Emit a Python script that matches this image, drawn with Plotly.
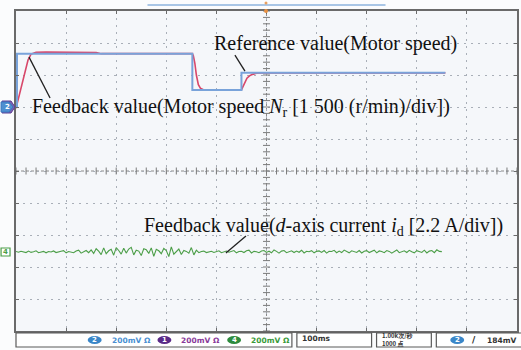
import numpy as np
import plotly.graph_objects as go

# ---------------- data ----------------
ref_time_ms = [0, 2, 2, 352, 352, 450, 450, 857]
ref_speed_rpm = [0, 0, 2500, 2500, 800, 800, 1600, 1600]

fb_time_ms = [0, 6, 12, 18, 24, 30, 40, 60, 100, 130, 160, 170, 352, 354, 357,
              360, 364, 368, 375, 450, 453, 457, 461, 466, 472, 480, 490, 857]
fb_speed_rpm = [-60, 520, 1080, 1640, 2200, 2480, 2560, 2570, 2560, 2565, 2550,
                2500, 2500, 2400, 2050, 1500, 1050, 880, 800, 800, 950, 1180,
                1350, 1460, 1530, 1580, 1600, 1600]

id_step_ms = 5
id_current_A = [0.03, -0.02, 0.05, 0.01, -0.04, 0.06, -0.03, 0.02, 0.08, -0.05,
                0.01, 0.04, -0.06, 0.03, 0.0, 0.07, -0.04, -0.02, 0.05, 0.09,
                -0.06, 0.03, 0.01, -0.05, 0.06, 0.12, -0.08, 0.04, 0.1, -0.05,
                0.14, -0.1, 0.22, 0.05, -0.18, 0.28, -0.12, 0.08, 0.18, -0.22,
                0.3, 0.1, -0.15, 0.26, -0.08, 0.2, 0.32, -0.2, 0.12, 0.06,
                -0.25, 0.22, 0.15, -0.1, 0.28, -0.3, 0.18, 0.08, -0.12, 0.24,
                0.1, -0.32, 0.35, -0.15, 0.06, 0.2, -0.18, 0.1, 0.04, -0.08,
                0.3, -0.2, 0.12, -0.05, 0.03, 0.06, -0.04, 0.02, 0.05, -0.03,
                0.04, 0.08, -0.05, 0.02, 0.06, -0.02, 0.04, 0.1, -0.06, 0.03,
                0.05, -0.04, 0.08, 0.12, -0.07, 0.04, 0.02, -0.05, 0.07, 0.1,
                -0.03, 0.05, -0.06, 0.14, 0.04, -0.08, 0.06, 0.1, -0.05, 0.03,
                0.08, -0.04, 0.06, -0.02, 0.12, -0.07, 0.05, 0.02, 0.09, -0.06,
                0.04, 0.07, -0.03, 0.1, -0.08, 0.05, 0.03, 0.11, -0.05, 0.06,
                -0.04, 0.13, 0.02, -0.06, 0.08, 0.04, -0.03, 0.1, -0.07, 0.05,
                0.09, -0.04, 0.02, 0.12, -0.06, 0.07, 0.03, -0.05, 0.1, 0.04,
                -0.08, 0.06, 0.14, -0.05, 0.03, 0.08, -0.04, 0.11, 0.02, -0.06,
                0.09, 0.05, -0.03, 0.12, -0.07, 0.06, 0.1, -0.05, 0.15, 0.04,
                0.02]

speed_per_div = 1500.0     # (r/min)/div
speed_zero_div = 2.0       # channel-2 ground marker position
id_per_div = 2.2           # A/div
id_zero_div = -2.53        # channel-4 ground marker position
time_per_div = 100         # ms/div
n_hdiv, n_vdiv = 10, 10

# ---------------- conversions to screen divisions ----------------
ref_y = [speed_zero_div + s / speed_per_div for s in ref_speed_rpm]
fb_y = [speed_zero_div + s / speed_per_div for s in fb_speed_rpm]
id_t = [i * id_step_ms for i in range(len(id_current_A))]
id_y = [id_zero_div + a / id_per_div for a in id_current_A]

BLUE = "#79A3DA"
RED = "#D8476A"
GREEN = "#4C9E48"
GRID = "#A9AFB8"
FRAME = "#6A6A6A"

fig = go.Figure()

# centre cross tick marks
fig.add_trace(go.Scatter(x=np.arange(0, n_hdiv * time_per_div + 1, time_per_div / 5),
                         y=[0] * (n_hdiv * 5 + 1), mode="markers",
                         marker=dict(symbol="line-ns", size=5, line=dict(color="#7A7A7A", width=1)),
                         hoverinfo="skip", showlegend=False))
fig.add_trace(go.Scatter(y=np.arange(-n_vdiv / 2, n_vdiv / 2 + 0.01, 0.2),
                         x=[n_hdiv * time_per_div / 2] * (n_vdiv * 5 + 1), mode="markers",
                         marker=dict(symbol="line-ew", size=5, line=dict(color="#7A7A7A", width=1)),
                         hoverinfo="skip", showlegend=False))

fig.add_trace(go.Scatter(x=id_t, y=id_y, mode="lines", line=dict(color=GREEN, width=1.1),
                         hoverinfo="skip", showlegend=False))
fig.add_trace(go.Scatter(x=fb_time_ms, y=fb_y, mode="lines", line=dict(color=RED, width=1.6),
                         hoverinfo="skip", showlegend=False))
fig.add_trace(go.Scatter(x=ref_time_ms, y=ref_y, mode="lines", line=dict(color=BLUE, width=2),
                         hoverinfo="skip", showlegend=False))

W, H = 521, 350
L, R, T, B = 16, 519, 11, 331


def px(x):
    return (x - L) / (R - L)


def py(y):
    return (B - y) / (B - T)


shapes = []
# centre lines
shapes.append(dict(type="line", xref="x", yref="y", x0=500, x1=500, y0=-5, y1=5,
                   line=dict(color="#8A8A8A", width=1, dash="3px,2px"), layer="below"))
shapes.append(dict(type="line", xref="x", yref="y", x0=0, x1=1000, y0=0, y1=0,
                   line=dict(color="#8A8A8A", width=1, dash="3px,2px"), layer="below"))

# top memory bar and trigger markers
shapes.append(dict(type="line", xref="paper", yref="paper", x0=px(148), x1=px(387),
                   y0=py(5), y1=py(5), line=dict(color="#A9C6E6", width=2)))
shapes.append(dict(type="circle", xref="paper", yref="paper", x0=px(265.5), x1=px(268.5),
                   y0=py(1.5), y1=py(4.5), fillcolor="#E8A060", line=dict(width=0)))
shapes.append(dict(type="circle", xref="paper", yref="paper", x0=px(265), x1=px(269),
                   y0=py(9), y1=py(13), fillcolor="#E89040", line=dict(width=0)))

# leader lines
for (x0, y0, x1, y1) in [(437, 3.62, 457, 3.12), (68, 2.28, 26, 3.56), (459, -2.03, 419, -2.56)]:
    shapes.append(dict(type="line", xref="x", yref="y", x0=x0, y0=y0, x1=x1, y1=y1,
                       line=dict(color="#202020", width=1.3)))

# channel ground markers at the left
shapes.append(dict(type="path", xref="paper", yref="paper",
                   path=f"M {px(2)} {py(101)} L {px(11)} {py(101)} L {px(15)} {py(107)} "
                        f"L {px(11)} {py(113)} L {px(2)} {py(113)} Z",
                   fillcolor="#7C5FB0", line=dict(color="#5B3E96", width=1)))
shapes.append(dict(type="path", xref="paper", yref="paper",
                   path=f"M {px(1)} {py(102)} L {px(9)} {py(102)} L {px(13)} {py(107)} "
                        f"L {px(9)} {py(112)} L {px(1)} {py(112)} Z",
                   fillcolor="#4F8FD0", line=dict(color="#3A78C0", width=1)))
shapes.append(dict(type="rect", xref="paper", yref="paper", x0=px(1), x1=px(10),
                   y0=py(256), y1=py(248), fillcolor="#FFFFFF", line=dict(color=GREEN, width=1.2)))

# status bar boxes
for (a, b) in [(16, 293), (298, 373), (378, 433), (438, 525)]:
    shapes.append(dict(type="rect", xref="paper", yref="paper", x0=px(a), x1=px(b),
                       y0=py(347), y1=py(333), line=dict(color="#5A5A5A", width=1.2),
                       fillcolor="#FFFFFF"))
# channel badges
for (a, col) in [(88, "#3A86C8"), (158, "#5A2A88"), (228, "#2E8B3E"), (452, "#3A86C8")]:
    shapes.append(dict(type="circle", xref="paper", yref="paper", x0=px(a), x1=px(a + 14),
                       y0=py(344), y1=py(336), fillcolor=col, line=dict(width=0)))

annotations = []
serif = "Liberation Serif, Times New Roman, serif"
annotations.append(dict(x=392, y=3.97, xref="x", yref="y", xanchor="left", yanchor="middle",
                        text="Reference value(Motor speed)", showarrow=False,
                        font=dict(family=serif, size=20, color="#111111")))
annotations.append(dict(x=28, y=1.97, xref="x", yref="y", xanchor="left", yanchor="middle",
                        text="Feedback value(Motor speed <i>N</i><sub>r</sub> [1 500 (r/min)/div])",
                        showarrow=False, font=dict(family=serif, size=20, color="#111111")))
annotations.append(dict(x=252, y=-1.72, xref="x", yref="y", xanchor="left", yanchor="middle",
                        text="Feedback value(<i>d</i>-axis current <i>i</i><sub>d</sub> [2.2 A/div])",
                        showarrow=False, font=dict(family=serif, size=20, color="#111111")))


def paper_text(x, y, text, size, color, family="DejaVu Sans, sans-serif", anchor="left"):
    annotations.append(dict(x=px(x), y=py(y), xref="paper", yref="paper", xanchor=anchor,
                            yanchor="middle", text=text, showarrow=False,
                            font=dict(family=family, size=size, color=color)))


for (x, t) in [(95, "2"), (165, "1"), (235, "4"), (459, "2")]:
    paper_text(x, 340, "<b>" + t + "</b>", 7, "#FFFFFF", anchor="center")
for (x, col) in [(110, "#4A8FD2"), (180, "#8A3A9A"), (250, "#3A9A3A")]:
    paper_text(x, 340, "<b>200mV Ω</b>", 7.5, col)
paper_text(301, 338, "<b>100ms</b>", 7.5, "#333333")
paper_text(381, 335.5, "<b>1.00k次/秒</b>", 6, "#333333", family="Noto Sans CJK SC, sans-serif")
paper_text(381, 343.8, "<b>1000 点</b>", 6, "#333333", family="Noto Sans CJK SC, sans-serif")
paper_text(472, 340, "<b>/</b>", 9, "#222222")
paper_text(487, 340, "<b>184mV</b>", 7.5, "#333333")
paper_text(7, 107, "<b>2</b>", 7, "#FFFFFF", anchor="center")
paper_text(5.5, 252, "<b>4</b>", 7, GREEN, anchor="center")

fig.update_layout(
    width=W, height=H,
    margin=dict(l=L, r=W - R, t=T, b=H - B),
    paper_bgcolor="#FBFCFD",
    plot_bgcolor="#F5F7FA",
    showlegend=False,
    shapes=shapes,
    annotations=annotations,
    xaxis=dict(range=[0, n_hdiv * time_per_div], dtick=time_per_div, tick0=0,
               showgrid=True, gridcolor=GRID, gridwidth=1, griddash="2px,5px",
               zeroline=False, showticklabels=False, ticks="inside", ticklen=3,
               tickcolor=FRAME, showline=True, linecolor=FRAME, linewidth=1.5, mirror="ticks",
               fixedrange=True),
    yaxis=dict(range=[-n_vdiv / 2, n_vdiv / 2], dtick=1, tick0=0,
               showgrid=True, gridcolor=GRID, gridwidth=1, griddash="2px,5px",
               zeroline=False, showticklabels=False, ticks="inside", ticklen=3,
               tickcolor=FRAME, showline=True, linecolor=FRAME, linewidth=1.5, mirror="ticks",
               fixedrange=True),
)

fig.write_html("out.html")
